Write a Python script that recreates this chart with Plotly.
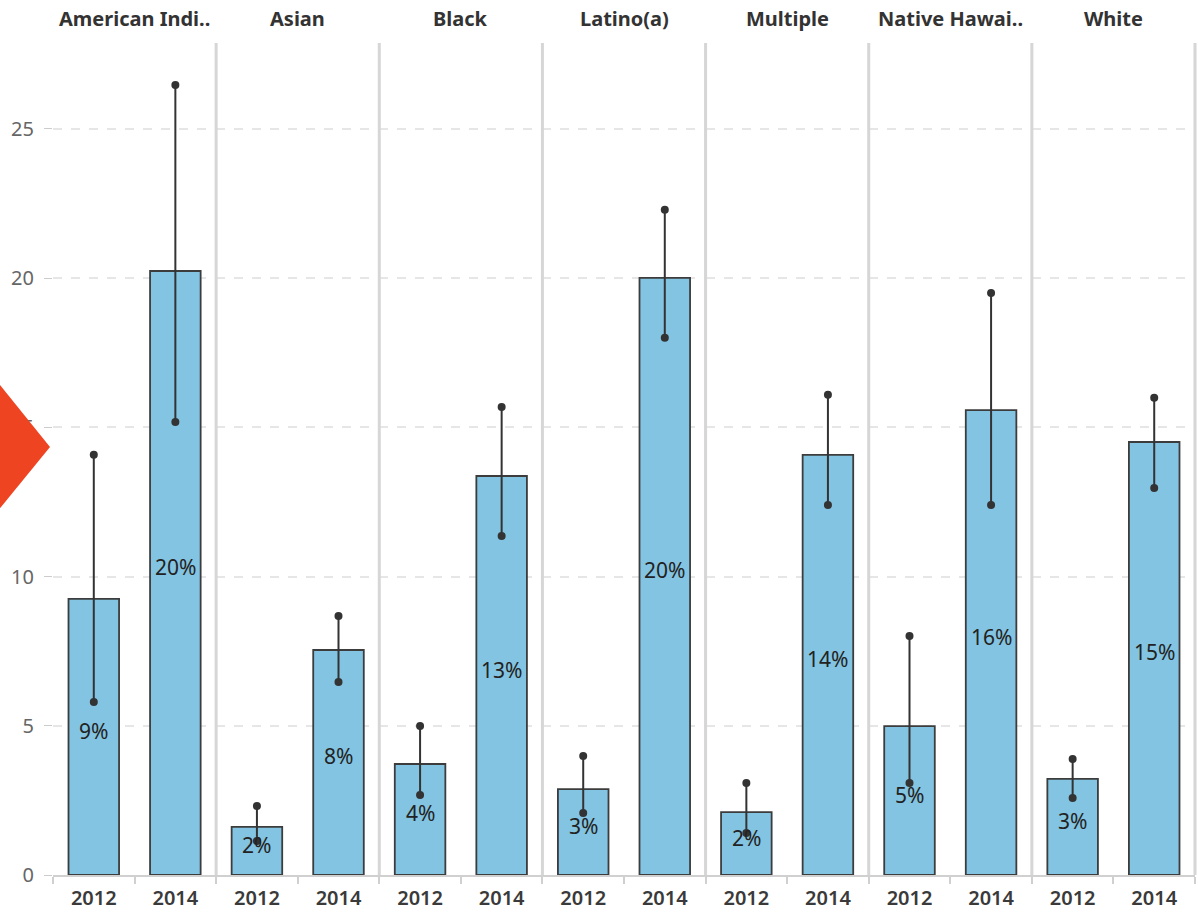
import plotly.graph_objects as go
from plotly.subplots import make_subplots

groups = ["American Indi..", "Asian", "Black", "Latino(a)", "Multiple", "Native Hawai..", "White"]
years = ["2012", "2014"]
rate_2012 = [9.25, 1.61, 3.72, 2.88, 2.11, 4.99, 3.22]
rate_2014 = [20.24, 7.54, 13.37, 20.01, 14.08, 15.58, 14.51]
lo_2012 = [5.80, 1.14, 2.68, 2.08, 1.41, 3.08, 2.58]
hi_2012 = [14.08, 2.31, 4.99, 3.99, 3.08, 8.01, 3.89]
lo_2014 = [15.18, 6.47, 11.36, 18.0, 12.40, 12.40, 12.97]
hi_2014 = [26.47, 8.68, 15.68, 22.29, 16.09, 19.50, 15.99]
labels_2012 = ["9%", "2%", "4%", "3%", "2%", "5%", "3%"]
labels_2014 = ["20%", "8%", "13%", "20%", "14%", "16%", "15%"]
y_ticks = [0, 5, 10, 15, 20, 25]

W, H = 1198, 912
ML, MR, MT, MB = 53, 3, 43, 37
FONT = "Noto Sans"

n = len(groups)
fig = make_subplots(rows=1, cols=n, shared_yaxes=True, horizontal_spacing=0)

annotations = []
for i in range(n):
    col = i + 1
    vals = [rate_2012[i], rate_2014[i]]
    fig.add_trace(go.Bar(
        x=years, y=vals,
        marker=dict(color="#82c4e1", line=dict(color="#3c3c3c", width=1.8)),
        width=0.62, showlegend=False, hoverinfo="skip",
    ), row=1, col=col)
    ex = [years[0], years[0], None, years[1], years[1]]
    ey = [lo_2012[i], hi_2012[i], None, lo_2014[i], hi_2014[i]]
    fig.add_trace(go.Scatter(
        x=ex, y=ey, mode="lines+markers",
        line=dict(color="#333333", width=2),
        marker=dict(color="#333333", size=8),
        showlegend=False, hoverinfo="skip",
    ), row=1, col=col)
    xref = "x" if col == 1 else f"x{col}"
    yref = "y" if col == 1 else f"y{col}"
    for j, (v, lab) in enumerate(zip(vals, [labels_2012[i], labels_2014[i]])):
        annotations.append(dict(
            text=lab, x=j, y=v / 2, xref=xref, yref=yref,
            xanchor="center", yanchor="middle", yshift=6, showarrow=False,
            font=dict(family=FONT, size=21, color="#222222"),
        ))
    fig.update_xaxes(
        type="category", categoryorder="array", categoryarray=years,
        range=[-0.5, 1.5], automargin=False,
        showline=True, linecolor="#d0d0d0", linewidth=2,
        ticks="outside", tickson="boundaries", ticklen=7, tickcolor="#d0d0d0",
        tickwidth=1.5, ticklabelstandoff=4,
        showgrid=False,
        tickfont=dict(family=FONT, size=20, color="#3a3a3a", weight=600),
        row=1, col=col,
    )

fig.update_yaxes(
    range=[0, 27.88], tickvals=y_ticks, automargin=False,
    showgrid=True, gridcolor="#e6e6e6", gridwidth=1.5, griddash="dash",
    zeroline=False, showline=False,
    ticks="outside", ticklen=8, tickcolor="#cccccc",
    ticklabelstandoff=6,
    tickfont=dict(family=FONT, size=20, color="#666666"),
)
for c in range(2, n + 1):
    fig.update_yaxes(showticklabels=False, ticks="", row=1, col=c)

plot_w = W - ML - MR
ph = H - MT - MB
shapes = []
for i in range(n):
    x0 = i / n
    x1 = (i + 1) / n
    annotations.append(dict(
        text=groups[i], x=(x0 + x1) / 2, y=1 + (MT - 18) / ph,
        xref="paper", yref="paper", xanchor="center", yanchor="middle",
        showarrow=False, font=dict(family=FONT, size=20, color="#333333", weight="bold"),
    ))
    shapes.append(dict(
        type="line", xref="paper", yref="paper", x0=x1, x1=x1, y0=0, y1=1,
        line=dict(color="#d6d6d6", width=3), layer="above",
    ))

def px(xp):
    return (xp - ML) / plot_w
def py(yp):
    return (H - MB - yp) / ph

path = "M {} {} L {} {} L {} {} Z".format(px(-12), py(370), px(50), py(447), px(-12), py(523))
shapes.append(dict(type="path", xref="paper", yref="paper", path=path,
                   fillcolor="#ee4422", line=dict(width=0), layer="above"))

fig.update_layout(
    width=W, height=H,
    margin=dict(l=ML, r=MR, t=MT, b=MB, autoexpand=False),
    plot_bgcolor="white", paper_bgcolor="white",
    annotations=annotations,
    shapes=shapes,
    font=dict(family=FONT),
)

fig.write_html(
    "out.html",
    config={"displayModeBar": False},
    post_script="document.body.style.margin='0px';document.body.style.overflow='hidden';",
)
